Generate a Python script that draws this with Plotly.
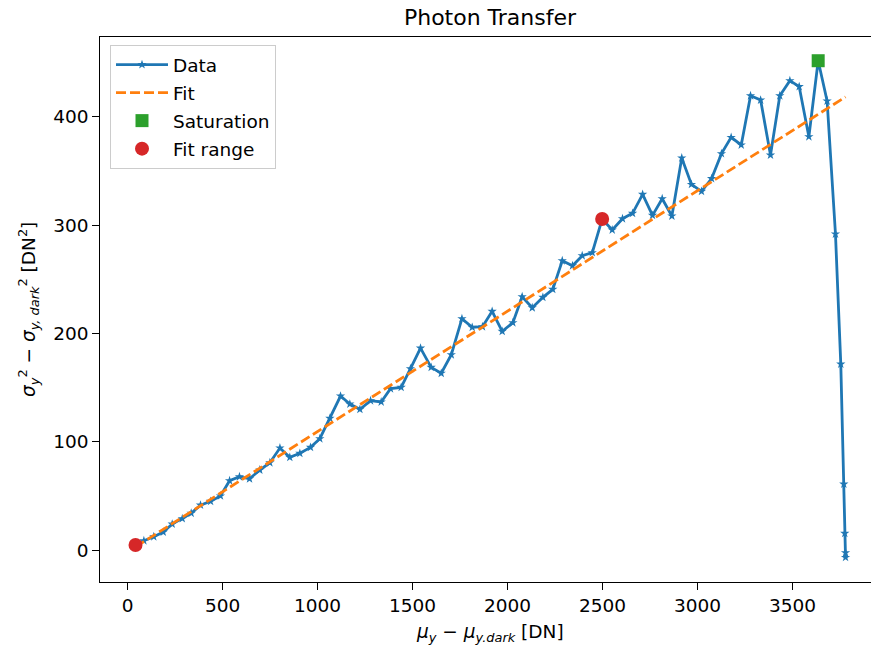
import plotly.graph_objects as go

# Data
mean_dn = [42, 86, 138, 188, 235, 288, 335, 384, 437, 489, 537, 589, 642, 696, 749, 802,
           854, 907, 963, 1012, 1065, 1121, 1170, 1223, 1279, 1335, 1384, 1440, 1489, 1542,
           1598, 1651, 1704, 1760, 1814, 1868, 1919, 1972, 2028, 2077, 2130, 2186, 2238,
           2288, 2342, 2393, 2446, 2498, 2551, 2605, 2658, 2711, 2763, 2814, 2865, 2917,
           2968, 3021, 3074, 3126, 3177, 3230, 3279, 3332, 3384, 3433, 3486, 3535, 3586,
           3635, 3682, 3726, 3754, 3770, 3775, 3779, 3779]
var_dn2 = [4.6, 8.6, 12.3, 16.6, 24.0, 29.0, 34.0, 41.5, 45.0, 50.0, 64.0, 67.7, 65.8, 73.9,
           80.6, 94.2, 85.6, 89.3, 94.8, 102.8, 121.6, 142.2, 134.8, 129.9, 137.9, 136.7,
           149.0, 150.2, 167.4, 186.5, 168.7, 163.2, 180.3, 213.6, 205.6, 206.2, 220.4,
           201.9, 209.9, 233.9, 223.7, 233.3, 240.7, 267.1, 262.5, 271.8, 274.6, 305.6,
           295.5, 305.9, 310.9, 328.4, 309.0, 324.4, 308.4, 362.0, 337.6, 331.2, 343.0,
           366.0, 381.0, 374.0, 419.5, 415.5, 364.7, 419.5, 433.4, 427.9, 381.6, 451.8,
           414.6, 291.8, 171.7, 60.9, 15.4, -2.5, -6.8]

fit_x = [42, 3779]
fit_y = [2.9, 418.4]

sat_x = [3635]
sat_y = [451.8]

range_x = [42, 2498]
range_y = [4.6, 305.6]

x_ticks = [0, 500, 1000, 1500, 2000, 2500, 3000, 3500]
y_ticks = [0, 100, 200, 300, 400]

FONT = "DejaVu Sans"
FS = 18.5

W, H = 871, 650
ML, MT, MB = 100, 37, 68
PW = W - ML
PH = H - MT - MB

fig = go.Figure()
fig.add_trace(go.Scatter(
    x=mean_dn, y=var_dn2, mode="lines+markers", name="Data",
    line=dict(color="#1f77b4", width=2.8),
    marker=dict(symbol="star", size=7, color="#1f77b4"),
    legendgroup="a"))
fig.add_trace(go.Scatter(
    x=fit_x, y=fit_y, mode="lines", name="Fit",
    line=dict(color="#ff7f0e", width=2.8, dash="10px,4px"),
    legendgroup="b"))
fig.add_trace(go.Scatter(
    x=sat_x, y=sat_y, mode="markers", name="Saturation",
    marker=dict(symbol="square", size=13, color="#2ca02c"),
    legendgroup="c"))
fig.add_trace(go.Scatter(
    x=range_x, y=range_y, mode="markers", name="Fit range",
    marker=dict(symbol="circle", size=14, color="#d62728"),
    legendgroup="d"))

axis_common = dict(
    showline=True, linecolor="black", linewidth=1.4,
    ticks="outside", ticklen=6.5, tickwidth=1.4, tickcolor="black",
    showgrid=False, zeroline=False, automargin=False,
    tickfont=dict(family=FONT, size=FS, color="black"),
)

fig.update_layout(
    width=W, height=H,
    margin=dict(l=ML, r=0, t=MT, b=MB, autoexpand=False),
    plot_bgcolor="white", paper_bgcolor="white",
    font=dict(family=FONT, color="black"),
    title=dict(text="Photon Transfer", x=490 / W, xanchor="center",
               y=1 - 17 / H, yanchor="middle", automargin=False,
               font=dict(family=FONT, size=22, color="black")),
    xaxis=dict(range=[-145, 3913], tickvals=x_ticks, mirror=True, **axis_common),
    yaxis=dict(range=[-29.5, 473.7], tickvals=y_ticks, mirror=False, **axis_common),
    legend=dict(x=10 / PW, y=1 - 8 / PH, xanchor="left", yanchor="top",
                bordercolor="#cccccc", borderwidth=1,
                bgcolor="rgba(255,255,255,0.8)",
                font=dict(family=FONT, size=FS, color="black"),
                traceorder="grouped", tracegroupgap=1, itemwidth=52),
    showlegend=True,
    annotations=[
        dict(text="<i>μ<sub>y</sub></i> − <i>μ<sub>y.dark</sub></i> [DN]",
             xref="paper", yref="paper", x=(490 - ML) / PW, y=-(633 - (MT + PH)) / PH,
             xanchor="center", yanchor="middle", showarrow=False,
             font=dict(family=FONT, size=FS, color="black")),
        dict(text="<i>σ<sub>y</sub></i><sup>2</sup> − <i>σ<sub>y, dark</sub></i><sup>2</sup> [DN<sup>2</sup>]",
             xref="paper", yref="paper", x=(28 - ML) / PW, y=(MT + PH - 310) / PH,
             xanchor="center", yanchor="middle", textangle=-90, showarrow=False,
             font=dict(family=FONT, size=FS, color="black")),
    ],
)

fig.write_html("out.html", config={"displayModeBar": False},
               post_script="document.body.style.margin='0';")
